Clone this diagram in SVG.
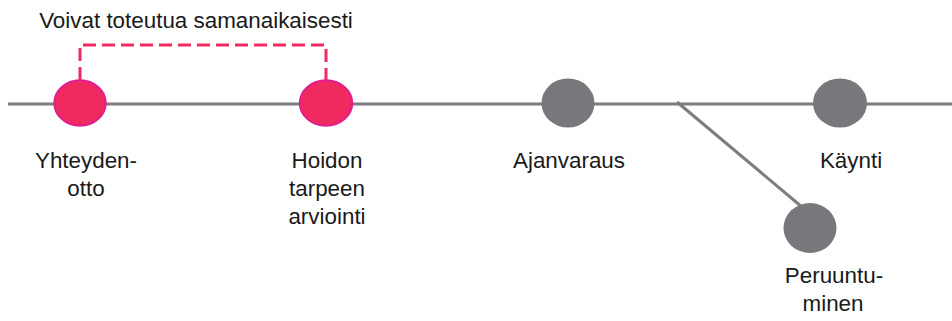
<svg xmlns="http://www.w3.org/2000/svg" width="952" height="321" viewBox="0 0 952 321">
<style>
.t{font-family:"Liberation Sans",Arial,sans-serif;font-size:22.4px;fill:#1a1a1a;text-anchor:middle}
.ln{stroke:#7c7d80;stroke-width:3;fill:none}
.pk{fill:#ef2a5e;stroke:#e3208a;stroke-width:2.5}
.gr{fill:#76787b}
.dash{stroke:#ef2a5e;stroke-width:3;fill:none;stroke-dasharray:13 6}
</style>
<rect width="952" height="321" fill="#fff"/>
<g id="connectors">
<line class="ln" x1="8" y1="104" x2="952" y2="104"/>
<line class="ln" x1="677" y1="102" x2="802" y2="207"/>
<polyline class="dash" points="80,80 80,45 326,45 326,80"/>
</g>
<text class="t" x="196" y="28">Voivat toteutua samanaikaisesti</text>
<g id="n1"><ellipse class="pk" cx="80" cy="103" rx="25.5" ry="22.5"/><text class="t" x="86" y="168">Yhteyden-</text><text class="t" x="86" y="196">otto</text></g>
<g id="n2"><ellipse class="pk" cx="326" cy="103" rx="26" ry="22.5"/><text class="t" x="327" y="168">Hoidon</text><text class="t" x="327" y="196">tarpeen</text><text class="t" x="327" y="224">arviointi</text></g>
<g id="n3"><ellipse class="gr" cx="568" cy="103" rx="26.5" ry="24.5"/><text class="t" x="569" y="168">Ajanvaraus</text></g>
<g id="n4"><ellipse class="gr" cx="840" cy="103" rx="27" ry="24.5"/><text class="t" x="851" y="168">Käynti</text></g>
<g id="n5"><ellipse class="gr" cx="810" cy="228" rx="26.5" ry="25"/><text class="t" x="834" y="283">Peruuntu-</text><text class="t" x="833" y="311">minen</text></g>
</svg>
